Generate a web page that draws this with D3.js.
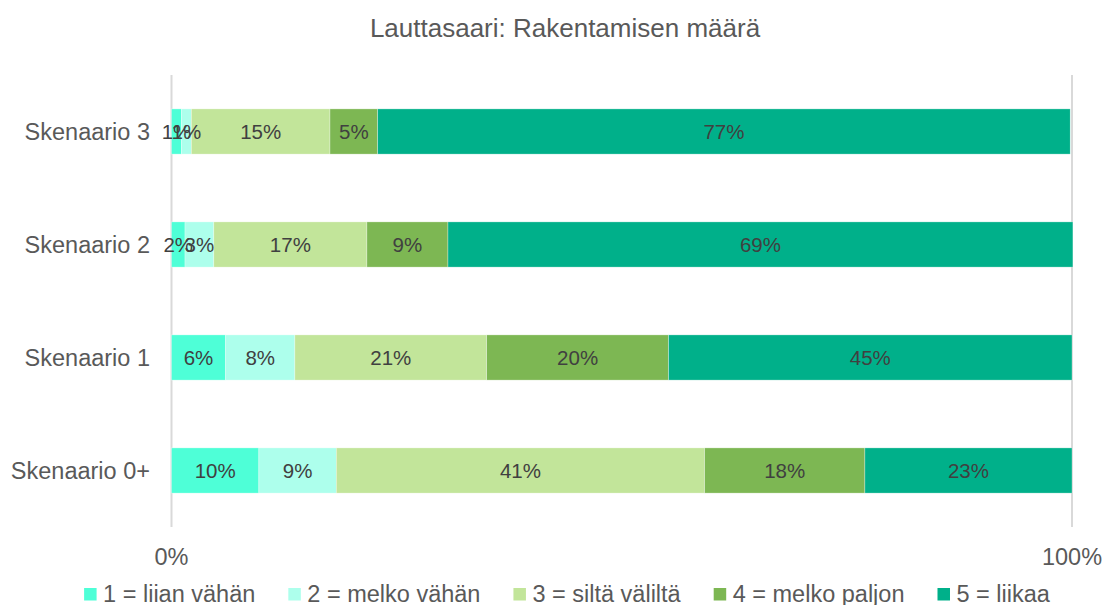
<!DOCTYPE html>
<html>
<head>
<meta charset="utf-8">
<script src="https://cdn.jsdelivr.net/npm/d3@7"></script>
<style>
  html, body { margin: 0; padding: 0; background: #fff; }
  svg { display: block; font-family: "Liberation Sans", Arial, sans-serif; }
</style>
</head>
<body>
<svg id="chart" width="1105" height="605"></svg>
<script>
// ---- data ----
const title = "Lauttasaari: Rakentamisen määrä";
const categories = ["Skenaario 3", "Skenaario 2", "Skenaario 1", "Skenaario 0+"];
const seriesNames = ["1 = liian vähän", "2 = melko vähän", "3 = siltä väliltä", "4 = melko paljon", "5 = liikaa"];
const seriesColors = ["#4EFFD7", "#ADFFEC", "#C2E59A", "#7DB753", "#00B08A"];
const liianVahan   = [1.1, 1.5, 6.0, 9.7];
const melkoVahan   = [1.1, 3.2, 7.7, 8.6];
const siltaValilta = [15.4, 17.0, 21.3, 40.9];
const melkoPaljon  = [5.3, 9.0, 20.2, 17.8];
const liikaa       = [76.9, 69.4, 44.8, 23.0];
const tickValues = [0, 100];
const tickLabels = ["0%", "100%"];

const seriesValues = [liianVahan, melkoVahan, siltaValilta, melkoPaljon, liikaa];
const table = categories.map((c, i) => {
  const row = { category: c };
  seriesNames.forEach((s, j) => { row[s] = seriesValues[j][i]; });
  return row;
});

const svg = d3.select("#chart");

const x = d3.scaleLinear().domain([0, 100]).range([171.5, 1072]);
const y = d3.scaleBand().domain(categories).range([75, 527]).paddingInner(0.6).paddingOuter(0.3);

// title
svg.append("text")
  .attr("x", 565).attr("y", 37)
  .attr("text-anchor", "middle")
  .attr("font-size", "26px")
  .attr("fill", "#595959")
  .text(title);

// gridlines (0% and 100%)
svg.append("g").selectAll("line").data(tickValues).join("line")
  .attr("x1", d => x(d)).attr("x2", d => x(d))
  .attr("y1", 75).attr("y2", 527)
  .attr("stroke", "#D9D9D9").attr("stroke-width", 2);

// stacked bars
const stack = d3.stack().keys(seriesNames);
const stacked = stack(table);

const layers = svg.append("g").selectAll("g").data(stacked).join("g")
  .attr("fill", (d, i) => seriesColors[i]);

layers.selectAll("rect").data(d => d).join("rect")
  .attr("x", d => x(d[0]))
  .attr("width", d => x(d[1]) - x(d[0]))
  .attr("y", d => y(d.data.category))
  .attr("height", y.bandwidth())
  .attr("stroke", "#ffffff").attr("stroke-width", 0.6).attr("stroke-opacity", 0.5);

// data labels
const lbl = svg.append("g");
stacked.forEach((layer) => {
  layer.forEach(d => {
    const v = d[1] - d[0];
    lbl.append("text")
      .attr("x", (x(d[0]) + x(d[1])) / 2)
      .attr("y", y(d.data.category) + y.bandwidth() / 2)
      .attr("dy", "0.36em")
      .attr("text-anchor", "middle")
      .attr("font-size", "20.5px")
      .attr("fill", "#404040")
      .text(Math.round(v) + "%");
  });
});

// category axis labels
svg.append("g").selectAll("text").data(categories).join("text")
  .attr("x", 150)
  .attr("y", d => y(d) + y.bandwidth() / 2)
  .attr("dy", "0.36em")
  .attr("text-anchor", "end")
  .attr("font-size", "23.5px")
  .attr("fill", "#595959")
  .text(d => d);

// x tick labels
svg.append("g").selectAll("text").data(tickValues).join("text")
  .attr("x", d => x(d))
  .attr("y", 564.5)
  .attr("text-anchor", "middle")
  .attr("font-size", "23.5px")
  .attr("fill", "#595959")
  .text((d, i) => tickLabels[i]);

// legend
const legend = svg.append("g");
const swatch = 12.5, swGap = 6.5, itemGap = 33;
const items = legend.selectAll("g").data(seriesNames).join("g");
items.append("rect")
  .attr("width", swatch).attr("height", swatch)
  .attr("y", 588)
  .attr("fill", (d, i) => seriesColors[i]);
items.append("text")
  .attr("x", swatch + swGap)
  .attr("y", 601.5)
  .attr("font-size", "23.5px")
  .attr("fill", "#595959")
  .text(d => d);
let widths = [];
items.each(function() { widths.push(d3.select(this).select("text").node().getComputedTextLength()); });
const total = widths.reduce((a, w) => a + swatch + swGap + w, 0) + itemGap * (widths.length - 1);
let cx = 567 - total / 2;
items.each(function(d, i) {
  d3.select(this).attr("transform", `translate(${cx},0)`);
  cx += swatch + swGap + widths[i] + itemGap;
});
</script>
</body>
</html>
